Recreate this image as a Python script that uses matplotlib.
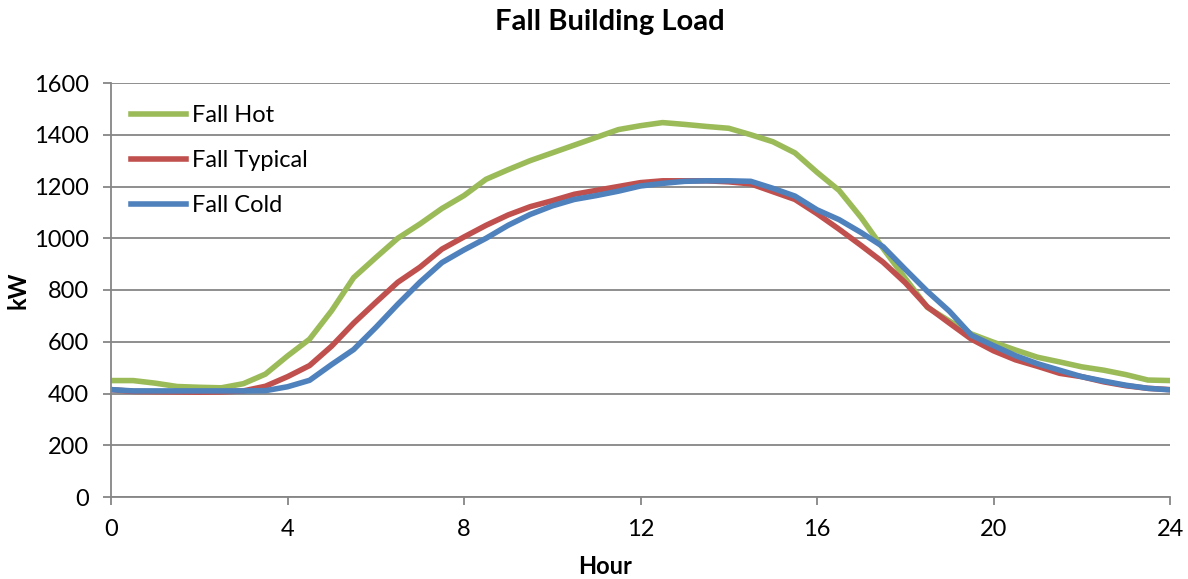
import numpy as np
import matplotlib
matplotlib.use("Agg")
import matplotlib.pyplot as plt

plt.rcParams['font.family'] = ['Lato', 'DejaVu Sans']

hours = np.arange(0, 24.01, 0.5)

fall_hot = [450, 450, 440, 427, 424, 422, 438, 475, 545, 610, 720, 848, 925, 1000,
            1055, 1115, 1165, 1228, 1265, 1300, 1330, 1360, 1390, 1420, 1435, 1447,
            1440, 1432, 1425, 1400, 1373, 1330, 1255, 1185, 1080, 960, 845, 733, 680,
            630, 598, 568, 540, 522, 503, 490, 473, 452, 450]

fall_typical = [415, 408, 407, 406, 405, 406, 410, 428, 465, 508, 583, 672, 752, 830,
                888, 958, 1005, 1050, 1090, 1122, 1145, 1170, 1185, 1200, 1215, 1222,
                1222, 1222, 1218, 1210, 1180, 1150, 1095, 1035, 972, 907, 828, 735, 672,
                610, 565, 530, 505, 478, 465, 445, 430, 420, 415]

fall_cold = [415, 410, 410, 410, 410, 410, 410, 411, 426, 451, 512, 570, 655, 745,
             830, 906, 955, 1000, 1050, 1092, 1125, 1150, 1165, 1182, 1202, 1212,
             1220, 1222, 1222, 1220, 1193, 1163, 1110, 1072, 1022, 967, 880, 795, 718,
             625, 585, 546, 515, 490, 465, 448, 432, 420, 414]

series = [("Fall Hot", fall_hot, "#9BBB59"),
          ("Fall Typical", fall_typical, "#C0504D"),
          ("Fall Cold", fall_cold, "#4F81BD")]

x_ticks = [0, 4, 8, 12, 16, 20, 24]
y_ticks = [0, 200, 400, 600, 800, 1000, 1200, 1400, 1600]

W, H = 1188, 579
fig = plt.figure(figsize=(W / 100, H / 100), dpi=100)
ax = fig.add_axes([111 / W, 1 - 497 / H, (1170 - 111) / W, (497 - 83) / H])

for label, vals, color in series:
    ax.plot(hours, vals, color=color, lw=4.0, label=label, solid_joinstyle='round')

ax.set_xlim(0, 24)
ax.set_ylim(0, 1600)
ax.set_xticks(x_ticks)
ax.set_yticks(y_ticks)
ax.grid(axis='y', color='#868686', lw=1.3)
ax.set_axisbelow(True)
for s in ['top', 'right']:
    ax.spines[s].set_visible(False)
for s in ['left', 'bottom']:
    ax.spines[s].set_color('#868686')
    ax.spines[s].set_linewidth(1.3)
ax.tick_params(axis='both', colors='#868686', labelcolor='black', labelsize=17,
               length=6, width=1.3)
ax.tick_params(axis='x', pad=10)
ax.tick_params(axis='y', pad=10)

fig.text(610 / W, 1 - 22 / H, "Fall Building Load", fontsize=21,
         fontweight='bold', ha='center', va='center')
fig.text(605 / W, 1 - 567 / H, "Hour", fontsize=17,
         fontweight='bold', ha='center', va='center')
fig.text(18 / W, 1 - 290 / H, "kW", fontsize=17, fontweight='bold',
         ha='center', va='center', rotation=90)

leg = ax.legend(loc='upper left', bbox_to_anchor=(20 / (1170 - 111), 1 - 22 / 414),
                frameon=False, fontsize=17, handlelength=2.33, handletextpad=0.25,
                labelspacing=1.02, borderaxespad=0.0, borderpad=0.0)

fig.savefig("out.png", dpi=100)
